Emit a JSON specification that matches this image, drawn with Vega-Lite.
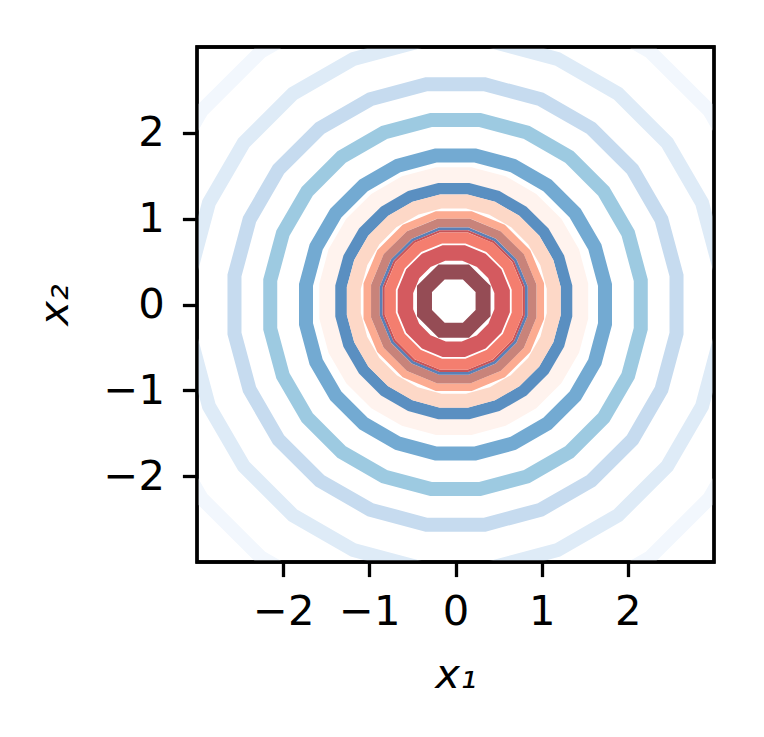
{
  "$schema": "https://vega.github.io/schema/vega-lite/v6.json",
  "width": 517,
  "height": 515,
  "autosize": {"type": "none"},
  "padding": {"left": 197, "top": 47, "right": 50, "bottom": 175},
  "background": "white",
  "config": {
    "view": {"stroke": "black", "strokeWidth": 3.3},
    "axis": {
      "grid": false,
      "domain": false,
      "tickSize": 14.6,
      "tickWidth": 3.3,
      "tickColor": "black",
      "labelFont": "DejaVu Sans",
      "labelFontSize": 41.7,
      "labelColor": "black",
      "labelFlush": false,
      "labelOverlap": false,
      "titleFont": "DejaVu Sans",
      "titleFontSize": 41.7,
      "titleFontStyle": "italic",
      "titleFontWeight": "normal",
      "titleColor": "black"
    }
  },
  "data": {
    "values": [
      {"r":"B6","i":1,"x":3.68,"y":0.484},{"r":"B6","i":2,"x":3.429,"y":1.42},{"r":"B6","i":3,"x":2.945,"y":2.26},{"r":"B6","i":4,"x":2.26,"y":2.945},{"r":"B6","i":5,"x":1.42,"y":3.429},{"r":"B6","i":6,"x":0.484,"y":3.68},
      {"r":"B6","i":7,"x":-0.484,"y":3.68},{"r":"B6","i":8,"x":-1.42,"y":3.429},{"r":"B6","i":9,"x":-2.26,"y":2.945},{"r":"B6","i":10,"x":-2.945,"y":2.26},{"r":"B6","i":11,"x":-3.429,"y":1.42},{"r":"B6","i":12,"x":-3.68,"y":0.484},
      {"r":"B6","i":13,"x":-3.68,"y":-0.484},{"r":"B6","i":14,"x":-3.429,"y":-1.42},{"r":"B6","i":15,"x":-2.945,"y":-2.26},{"r":"B6","i":16,"x":-2.26,"y":-2.945},{"r":"B6","i":17,"x":-1.42,"y":-3.429},{"r":"B6","i":18,"x":-0.484,"y":-3.68},
      {"r":"B6","i":19,"x":0.484,"y":-3.68},{"r":"B6","i":20,"x":1.42,"y":-3.429},{"r":"B6","i":21,"x":2.26,"y":-2.945},{"r":"B6","i":22,"x":2.945,"y":-2.26},{"r":"B6","i":23,"x":3.429,"y":-1.42},{"r":"B6","i":24,"x":3.68,"y":-0.484},

      {"r":"B5","i":1,"x":3.07,"y":0.404},{"r":"B5","i":2,"x":2.861,"y":1.185},{"r":"B5","i":3,"x":2.457,"y":1.885},{"r":"B5","i":4,"x":1.885,"y":2.457},{"r":"B5","i":5,"x":1.185,"y":2.861},{"r":"B5","i":6,"x":0.404,"y":3.07},
      {"r":"B5","i":7,"x":-0.404,"y":3.07},{"r":"B5","i":8,"x":-1.185,"y":2.861},{"r":"B5","i":9,"x":-1.885,"y":2.457},{"r":"B5","i":10,"x":-2.457,"y":1.885},{"r":"B5","i":11,"x":-2.861,"y":1.185},{"r":"B5","i":12,"x":-3.07,"y":0.404},
      {"r":"B5","i":13,"x":-3.07,"y":-0.404},{"r":"B5","i":14,"x":-2.861,"y":-1.185},{"r":"B5","i":15,"x":-2.457,"y":-1.885},{"r":"B5","i":16,"x":-1.885,"y":-2.457},{"r":"B5","i":17,"x":-1.185,"y":-2.861},{"r":"B5","i":18,"x":-0.404,"y":-3.07},
      {"r":"B5","i":19,"x":0.404,"y":-3.07},{"r":"B5","i":20,"x":1.185,"y":-2.861},{"r":"B5","i":21,"x":1.885,"y":-2.457},{"r":"B5","i":22,"x":2.457,"y":-1.885},{"r":"B5","i":23,"x":2.861,"y":-1.185},{"r":"B5","i":24,"x":3.07,"y":-0.404},

      {"r":"B4","i":1,"x":2.565,"y":0.338},{"r":"B4","i":2,"x":2.39,"y":0.99},{"r":"B4","i":3,"x":2.053,"y":1.575},{"r":"B4","i":4,"x":1.575,"y":2.053},{"r":"B4","i":5,"x":0.99,"y":2.39},{"r":"B4","i":6,"x":0.338,"y":2.565},
      {"r":"B4","i":7,"x":-0.338,"y":2.565},{"r":"B4","i":8,"x":-0.99,"y":2.39},{"r":"B4","i":9,"x":-1.575,"y":2.053},{"r":"B4","i":10,"x":-2.053,"y":1.575},{"r":"B4","i":11,"x":-2.39,"y":0.99},{"r":"B4","i":12,"x":-2.565,"y":0.338},
      {"r":"B4","i":13,"x":-2.565,"y":-0.338},{"r":"B4","i":14,"x":-2.39,"y":-0.99},{"r":"B4","i":15,"x":-2.053,"y":-1.575},{"r":"B4","i":16,"x":-1.575,"y":-2.053},{"r":"B4","i":17,"x":-0.99,"y":-2.39},{"r":"B4","i":18,"x":-0.338,"y":-2.565},
      {"r":"B4","i":19,"x":0.338,"y":-2.565},{"r":"B4","i":20,"x":0.99,"y":-2.39},{"r":"B4","i":21,"x":1.575,"y":-2.053},{"r":"B4","i":22,"x":2.053,"y":-1.575},{"r":"B4","i":23,"x":2.39,"y":-0.99},{"r":"B4","i":24,"x":2.565,"y":-0.338},

      {"r":"B3","i":1,"x":2.15,"y":0.283},{"r":"B3","i":2,"x":2.003,"y":0.83},{"r":"B3","i":3,"x":1.72,"y":1.32},{"r":"B3","i":4,"x":1.32,"y":1.72},{"r":"B3","i":5,"x":0.83,"y":2.003},{"r":"B3","i":6,"x":0.283,"y":2.15},
      {"r":"B3","i":7,"x":-0.283,"y":2.15},{"r":"B3","i":8,"x":-0.83,"y":2.003},{"r":"B3","i":9,"x":-1.32,"y":1.72},{"r":"B3","i":10,"x":-1.72,"y":1.32},{"r":"B3","i":11,"x":-2.003,"y":0.83},{"r":"B3","i":12,"x":-2.15,"y":0.283},
      {"r":"B3","i":13,"x":-2.15,"y":-0.283},{"r":"B3","i":14,"x":-2.003,"y":-0.83},{"r":"B3","i":15,"x":-1.72,"y":-1.32},{"r":"B3","i":16,"x":-1.32,"y":-1.72},{"r":"B3","i":17,"x":-0.83,"y":-2.003},{"r":"B3","i":18,"x":-0.283,"y":-2.15},
      {"r":"B3","i":19,"x":0.283,"y":-2.15},{"r":"B3","i":20,"x":0.83,"y":-2.003},{"r":"B3","i":21,"x":1.32,"y":-1.72},{"r":"B3","i":22,"x":1.72,"y":-1.32},{"r":"B3","i":23,"x":2.003,"y":-0.83},{"r":"B3","i":24,"x":2.15,"y":-0.283},

      {"r":"B2","i":1,"x":1.735,"y":0.228},{"r":"B2","i":2,"x":1.617,"y":0.67},{"r":"B2","i":3,"x":1.388,"y":1.065},{"r":"B2","i":4,"x":1.065,"y":1.388},{"r":"B2","i":5,"x":0.67,"y":1.617},{"r":"B2","i":6,"x":0.228,"y":1.735},
      {"r":"B2","i":7,"x":-0.228,"y":1.735},{"r":"B2","i":8,"x":-0.67,"y":1.617},{"r":"B2","i":9,"x":-1.065,"y":1.388},{"r":"B2","i":10,"x":-1.388,"y":1.065},{"r":"B2","i":11,"x":-1.617,"y":0.67},{"r":"B2","i":12,"x":-1.735,"y":0.228},
      {"r":"B2","i":13,"x":-1.735,"y":-0.228},{"r":"B2","i":14,"x":-1.617,"y":-0.67},{"r":"B2","i":15,"x":-1.388,"y":-1.065},{"r":"B2","i":16,"x":-1.065,"y":-1.388},{"r":"B2","i":17,"x":-0.67,"y":-1.617},{"r":"B2","i":18,"x":-0.228,"y":-1.735},
      {"r":"B2","i":19,"x":0.228,"y":-1.735},{"r":"B2","i":20,"x":0.67,"y":-1.617},{"r":"B2","i":21,"x":1.065,"y":-1.388},{"r":"B2","i":22,"x":1.388,"y":-1.065},{"r":"B2","i":23,"x":1.617,"y":-0.67},{"r":"B2","i":24,"x":1.735,"y":-0.228},

      {"r":"FP","i":1,"x":1.446,"y":0.233},{"r":"FP","i":2,"x":1.346,"y":0.606},{"r":"FP","i":3,"x":1.153,"y":0.94},{"r":"FP","i":4,"x":0.88,"y":1.213},{"r":"FP","i":5,"x":0.546,"y":1.406},{"r":"FP","i":6,"x":0.173,"y":1.506},
      {"r":"FP","i":7,"x":-0.213,"y":1.506},{"r":"FP","i":8,"x":-0.586,"y":1.406},{"r":"FP","i":9,"x":-0.92,"y":1.213},{"r":"FP","i":10,"x":-1.193,"y":0.94},{"r":"FP","i":11,"x":-1.386,"y":0.606},{"r":"FP","i":12,"x":-1.486,"y":0.233},
      {"r":"FP","i":13,"x":-1.486,"y":-0.153},{"r":"FP","i":14,"x":-1.386,"y":-0.526},{"r":"FP","i":15,"x":-1.193,"y":-0.86},{"r":"FP","i":16,"x":-0.92,"y":-1.133},{"r":"FP","i":17,"x":-0.586,"y":-1.326},{"r":"FP","i":18,"x":-0.213,"y":-1.426},
      {"r":"FP","i":19,"x":0.173,"y":-1.426},{"r":"FP","i":20,"x":0.546,"y":-1.326},{"r":"FP","i":21,"x":0.88,"y":-1.133},{"r":"FP","i":22,"x":1.153,"y":-0.86},{"r":"FP","i":23,"x":1.346,"y":-0.526},{"r":"FP","i":24,"x":1.446,"y":-0.153},

      {"r":"B1","i":1,"x":1.288,"y":0.212},{"r":"B1","i":2,"x":1.198,"y":0.545},{"r":"B1","i":3,"x":1.026,"y":0.843},{"r":"B1","i":4,"x":0.783,"y":1.086},{"r":"B1","i":5,"x":0.485,"y":1.258},{"r":"B1","i":6,"x":0.152,"y":1.348},
      {"r":"B1","i":7,"x":-0.192,"y":1.348},{"r":"B1","i":8,"x":-0.525,"y":1.258},{"r":"B1","i":9,"x":-0.823,"y":1.086},{"r":"B1","i":10,"x":-1.066,"y":0.843},{"r":"B1","i":11,"x":-1.238,"y":0.545},{"r":"B1","i":12,"x":-1.328,"y":0.212},
      {"r":"B1","i":13,"x":-1.328,"y":-0.132},{"r":"B1","i":14,"x":-1.238,"y":-0.465},{"r":"B1","i":15,"x":-1.066,"y":-0.763},{"r":"B1","i":16,"x":-0.823,"y":-1.006},{"r":"B1","i":17,"x":-0.525,"y":-1.178},{"r":"B1","i":18,"x":-0.192,"y":-1.268},
      {"r":"B1","i":19,"x":0.152,"y":-1.268},{"r":"B1","i":20,"x":0.485,"y":-1.178},{"r":"B1","i":21,"x":0.783,"y":-1.006},{"r":"B1","i":22,"x":1.026,"y":-0.763},{"r":"B1","i":23,"x":1.198,"y":-0.465},{"r":"B1","i":24,"x":1.288,"y":-0.132},

      {"r":"PE","i":1,"x":1.14,"y":0.193},{"r":"PE","i":2,"x":1.06,"y":0.488},{"r":"PE","i":3,"x":0.908,"y":0.752},{"r":"PE","i":4,"x":0.692,"y":0.968},{"r":"PE","i":5,"x":0.428,"y":1.12},{"r":"PE","i":6,"x":0.133,"y":1.2},
      {"r":"PE","i":7,"x":-0.173,"y":1.2},{"r":"PE","i":8,"x":-0.468,"y":1.12},{"r":"PE","i":9,"x":-0.732,"y":0.968},{"r":"PE","i":10,"x":-0.948,"y":0.752},{"r":"PE","i":11,"x":-1.1,"y":0.488},{"r":"PE","i":12,"x":-1.18,"y":0.193},
      {"r":"PE","i":13,"x":-1.18,"y":-0.113},{"r":"PE","i":14,"x":-1.1,"y":-0.408},{"r":"PE","i":15,"x":-0.948,"y":-0.672},{"r":"PE","i":16,"x":-0.732,"y":-0.888},{"r":"PE","i":17,"x":-0.468,"y":-1.04},{"r":"PE","i":18,"x":-0.173,"y":-1.12},
      {"r":"PE","i":19,"x":0.133,"y":-1.12},{"r":"PE","i":20,"x":0.428,"y":-1.04},{"r":"PE","i":21,"x":0.692,"y":-0.888},{"r":"PE","i":22,"x":0.908,"y":-0.672},{"r":"PE","i":23,"x":1.06,"y":-0.408},{"r":"PE","i":24,"x":1.14,"y":-0.113},

      {"r":"LS","i":1,"x":0.984,"y":0.24},{"r":"LS","i":2,"x":0.831,"y":0.608},{"r":"LS","i":3,"x":0.548,"y":0.891},{"r":"LS","i":4,"x":0.18,"y":1.044},
      {"r":"LS","i":5,"x":-0.22,"y":1.044},{"r":"LS","i":6,"x":-0.588,"y":0.891},{"r":"LS","i":7,"x":-0.871,"y":0.608},{"r":"LS","i":8,"x":-1.024,"y":0.24},
      {"r":"LS","i":9,"x":-1.024,"y":-0.16},{"r":"LS","i":10,"x":-0.871,"y":-0.528},{"r":"LS","i":11,"x":-0.588,"y":-0.811},{"r":"LS","i":12,"x":-0.22,"y":-0.964},
      {"r":"LS","i":13,"x":0.18,"y":-0.964},{"r":"LS","i":14,"x":0.548,"y":-0.811},{"r":"LS","i":15,"x":0.831,"y":-0.528},{"r":"LS","i":16,"x":0.984,"y":-0.16},

      {"r":"BR","i":1,"x":0.889,"y":0.221},{"r":"BR","i":2,"x":0.751,"y":0.555},{"r":"BR","i":3,"x":0.495,"y":0.811},{"r":"BR","i":4,"x":0.161,"y":0.949},
      {"r":"BR","i":5,"x":-0.201,"y":0.949},{"r":"BR","i":6,"x":-0.535,"y":0.811},{"r":"BR","i":7,"x":-0.791,"y":0.555},{"r":"BR","i":8,"x":-0.929,"y":0.221},
      {"r":"BR","i":9,"x":-0.929,"y":-0.141},{"r":"BR","i":10,"x":-0.791,"y":-0.475},{"r":"BR","i":11,"x":-0.535,"y":-0.731},{"r":"BR","i":12,"x":-0.201,"y":-0.869},
      {"r":"BR","i":13,"x":0.161,"y":-0.869},{"r":"BR","i":14,"x":0.495,"y":-0.731},{"r":"BR","i":15,"x":0.751,"y":-0.475},{"r":"BR","i":16,"x":0.889,"y":-0.141},

      {"r":"TB","i":1,"x":0.822,"y":0.207},{"r":"TB","i":2,"x":0.693,"y":0.517},{"r":"TB","i":3,"x":0.457,"y":0.753},{"r":"TB","i":4,"x":0.147,"y":0.882},
      {"r":"TB","i":5,"x":-0.187,"y":0.882},{"r":"TB","i":6,"x":-0.497,"y":0.753},{"r":"TB","i":7,"x":-0.733,"y":0.517},{"r":"TB","i":8,"x":-0.862,"y":0.207},
      {"r":"TB","i":9,"x":-0.862,"y":-0.127},{"r":"TB","i":10,"x":-0.733,"y":-0.437},{"r":"TB","i":11,"x":-0.497,"y":-0.673},{"r":"TB","i":12,"x":-0.187,"y":-0.802},
      {"r":"TB","i":13,"x":0.147,"y":-0.802},{"r":"TB","i":14,"x":0.457,"y":-0.673},{"r":"TB","i":15,"x":0.693,"y":-0.437},{"r":"TB","i":16,"x":0.822,"y":-0.127},

      {"r":"DR","i":1,"x":0.793,"y":0.202},{"r":"DR","i":2,"x":0.669,"y":0.5},{"r":"DR","i":3,"x":0.44,"y":0.729},{"r":"DR","i":4,"x":0.142,"y":0.853},
      {"r":"DR","i":5,"x":-0.182,"y":0.853},{"r":"DR","i":6,"x":-0.48,"y":0.729},{"r":"DR","i":7,"x":-0.709,"y":0.5},{"r":"DR","i":8,"x":-0.833,"y":0.202},
      {"r":"DR","i":9,"x":-0.833,"y":-0.122},{"r":"DR","i":10,"x":-0.709,"y":-0.42},{"r":"DR","i":11,"x":-0.48,"y":-0.649},{"r":"DR","i":12,"x":-0.182,"y":-0.773},
      {"r":"DR","i":13,"x":0.142,"y":-0.773},{"r":"DR","i":14,"x":0.44,"y":-0.649},{"r":"DR","i":15,"x":0.669,"y":-0.42},{"r":"DR","i":16,"x":0.793,"y":-0.122},

      {"r":"SA","i":1,"x":0.716,"y":0.186},{"r":"SA","i":2,"x":0.604,"y":0.457},{"r":"SA","i":3,"x":0.397,"y":0.664},{"r":"SA","i":4,"x":0.126,"y":0.776},
      {"r":"SA","i":5,"x":-0.166,"y":0.776},{"r":"SA","i":6,"x":-0.437,"y":0.664},{"r":"SA","i":7,"x":-0.644,"y":0.457},{"r":"SA","i":8,"x":-0.756,"y":0.186},
      {"r":"SA","i":9,"x":-0.756,"y":-0.106},{"r":"SA","i":10,"x":-0.644,"y":-0.377},{"r":"SA","i":11,"x":-0.437,"y":-0.584},{"r":"SA","i":12,"x":-0.166,"y":-0.696},
      {"r":"SA","i":13,"x":0.126,"y":-0.696},{"r":"SA","i":14,"x":0.397,"y":-0.584},{"r":"SA","i":15,"x":0.604,"y":-0.377},{"r":"SA","i":16,"x":0.716,"y":-0.106},

      {"r":"RD","i":1,"x":0.541,"y":0.152},{"r":"RD","i":2,"x":0.456,"y":0.358},{"r":"RD","i":3,"x":0.298,"y":0.516},{"r":"RD","i":4,"x":0.092,"y":0.601},
      {"r":"RD","i":5,"x":-0.132,"y":0.601},{"r":"RD","i":6,"x":-0.338,"y":0.516},{"r":"RD","i":7,"x":-0.496,"y":0.358},{"r":"RD","i":8,"x":-0.581,"y":0.152},
      {"r":"RD","i":9,"x":-0.581,"y":-0.072},{"r":"RD","i":10,"x":-0.496,"y":-0.278},{"r":"RD","i":11,"x":-0.338,"y":-0.436},{"r":"RD","i":12,"x":-0.132,"y":-0.521},
      {"r":"RD","i":13,"x":0.092,"y":-0.521},{"r":"RD","i":14,"x":0.298,"y":-0.436},{"r":"RD","i":15,"x":0.456,"y":-0.278},{"r":"RD","i":16,"x":0.541,"y":-0.072},

      {"r":"DK","i":1,"x":0.32,"y":0.181},{"r":"DK","i":2,"x":0.121,"y":0.38},{"r":"DK","i":3,"x":-0.161,"y":0.38},{"r":"DK","i":4,"x":-0.36,"y":0.181},
      {"r":"DK","i":5,"x":-0.36,"y":-0.101},{"r":"DK","i":6,"x":-0.161,"y":-0.3},{"r":"DK","i":7,"x":0.121,"y":-0.3},{"r":"DK","i":8,"x":0.32,"y":-0.101}
    ]
  },
  "layer": [
    {
      "encoding": {
        "x": {"field": "x", "type": "quantitative", "scale": {"domain": [-3, 3], "nice": false, "zero": false},
              "axis": {"values": [-2, -1, 0, 1, 2], "format": "d", "title": "x₁", "titlePadding": 22, "labelPadding": 14.6}},
        "y": {"field": "y", "type": "quantitative", "scale": {"domain": [-3, 3], "nice": false, "zero": false},
              "axis": {"values": [-2, -1, 0, 1, 2], "format": "d", "title": "x₂", "titlePadding": 26, "labelPadding": 18}},
        "order": {"field": "i", "type": "quantitative"}
      },
      "layer": [
        {"transform": [{"filter": "datum.r === 'B6'"}], "mark": {"type": "line", "interpolate": "linear-closed", "clip": true, "stroke": "#f2f7fd", "strokeWidth": 14, "strokeJoin": "miter"}},
        {"transform": [{"filter": "datum.r === 'B5'"}], "mark": {"type": "line", "interpolate": "linear-closed", "clip": true, "stroke": "#deebf7", "strokeWidth": 14, "strokeJoin": "miter"}},
        {"transform": [{"filter": "datum.r === 'B4'"}], "mark": {"type": "line", "interpolate": "linear-closed", "clip": true, "stroke": "#c6dbef", "strokeWidth": 14, "strokeJoin": "miter"}},
        {"transform": [{"filter": "datum.r === 'B3'"}], "mark": {"type": "line", "interpolate": "linear-closed", "clip": true, "stroke": "#9dcae1", "strokeWidth": 14, "strokeJoin": "miter"}},
        {"transform": [{"filter": "datum.r === 'B2'"}], "mark": {"type": "line", "interpolate": "linear-closed", "clip": true, "stroke": "#73aad2", "strokeWidth": 14, "strokeJoin": "miter"}},
        {"transform": [{"filter": "datum.r === 'FP'"}], "mark": {"type": "line", "interpolate": "linear-closed", "clip": true, "stroke": "#fff3ee", "strokeWidth": 16.2, "strokeJoin": "miter"}},
        {"transform": [{"filter": "datum.r === 'B1'"}], "mark": {"type": "line", "interpolate": "linear-closed", "clip": true, "stroke": "#5a8fc1", "strokeWidth": 11.6, "strokeJoin": "miter"}},
        {"transform": [{"filter": "datum.r === 'PE'"}], "mark": {"type": "line", "interpolate": "linear-closed", "clip": true, "stroke": "#fdd8c7", "strokeWidth": 14, "strokeJoin": "miter"}},
        {"transform": [{"filter": "datum.r === 'LS'"}], "mark": {"type": "line", "interpolate": "linear-closed", "clip": true, "stroke": "#fcab91", "strokeWidth": 7.5, "strokeJoin": "miter"}},
        {"transform": [{"filter": "datum.r === 'BR'"}], "mark": {"type": "line", "interpolate": "linear-closed", "clip": true, "stroke": "#c8837a", "strokeWidth": 8.8, "strokeJoin": "miter"}},
        {"transform": [{"filter": "datum.r === 'TB'"}], "mark": {"type": "line", "interpolate": "linear-closed", "clip": true, "stroke": "#5b7fb5", "strokeWidth": 2.8, "strokeJoin": "miter"}},
        {"transform": [{"filter": "datum.r === 'DR'"}], "mark": {"type": "line", "interpolate": "linear-closed", "clip": true, "stroke": "#c65459", "strokeWidth": 2.2, "strokeJoin": "miter"}},
        {"transform": [{"filter": "datum.r === 'SA'"}], "mark": {"type": "line", "interpolate": "linear-closed", "clip": true, "stroke": "#f47e6f", "strokeWidth": 11, "strokeJoin": "miter"}},
        {"transform": [{"filter": "datum.r === 'RD'"}], "mark": {"type": "line", "interpolate": "linear-closed", "clip": true, "stroke": "#d45a5f", "strokeWidth": 15.5, "strokeJoin": "miter"}},
        {"transform": [{"filter": "datum.r === 'DK'"}], "mark": {"type": "line", "interpolate": "linear-closed", "clip": true, "stroke": "#954c55", "strokeWidth": 15, "strokeJoin": "miter"}}
      ]
    },
    {
      "data": {"values": [{"x0": -3, "x1": 3, "y0": -3, "y1": 3}]},
      "mark": {"type": "rect", "filled": false, "stroke": "black", "strokeWidth": 3.3},
      "encoding": {
        "x": {"field": "x0", "type": "quantitative"},
        "x2": {"field": "x1"},
        "y": {"field": "y0", "type": "quantitative"},
        "y2": {"field": "y1"}
      }
    }
  ]
}
